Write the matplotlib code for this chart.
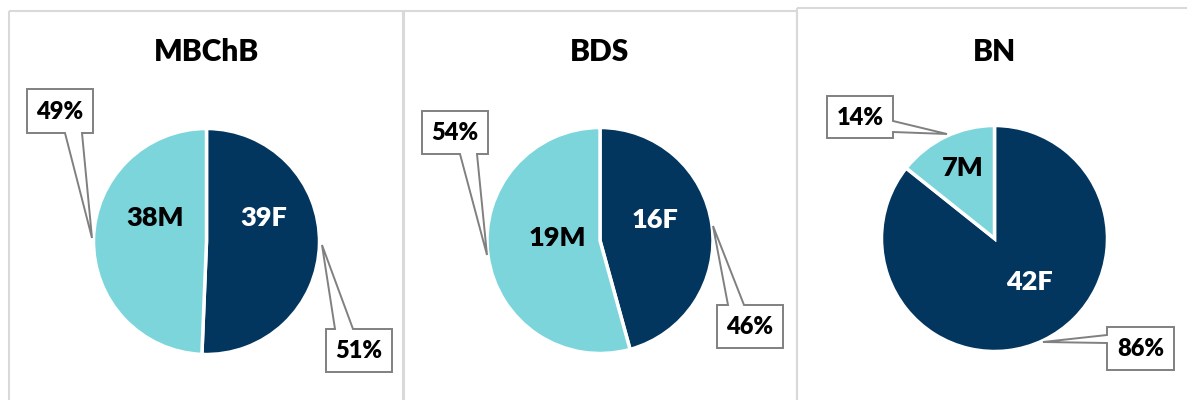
import matplotlib
matplotlib.use("Agg")
import matplotlib.pyplot as plt
from matplotlib.patches import Rectangle, Polygon

# ---- data ----
programmes = ["MBChB", "BDS", "BN"]
female = [39, 16, 42]
male = [38, 19, 7]

# ---- style ----
NAVY = "#03365F"
CYAN = "#7DD5DC"
GREY = "#808080"
BORDER = "#D9D9D9"
FONT = ["Lato", "DejaVu Sans"]
WEIGHT = "heavy"

W, H = 1187, 400
fig = plt.figure(figsize=(W / 100, H / 100), dpi=100)
ax = fig.add_axes([0, 0, 1, 1])

# layout (pixel coords, y downward)
centers = [(206.5, 241.5), (600, 240.5), (994.5, 238.5)]
radius = 113
panels = [(9, 11, 403, 420), (404, 11, 797, 420), (797, 8, 1195, 420)]
title_y = 52
# inside label offsets from centre (F, M)
f_off = [(57, -23), (55, -20), (35, 43)]
m_off = [(-51, -23), (-43, -3), (-32, -70)]
# callouts: (box x0,y0,x1,y1, edge, base1, base2, tip)
f_call = [
    ((326, 329, 392, 372), "top", 335, 353, (322, 245)),
    ((717, 305, 783, 348), "top", 728, 744, (713, 226)),
    ((1107, 327, 1174, 370), "left", 335, 343, (1043, 342)),
]
m_call = [
    ((27, 89, 93, 133), "bottom", 65, 82, (92, 238)),
    ((422, 111, 488, 154), "bottom", 460, 477, (487, 255)),
    ((827, 96, 893, 138), "right", 121, 132, (947, 134)),
]


def callout(box, edge, b1, b2, tip):
    x0, y0, x1, y1 = box
    if edge == "bottom":
        pts = [(x0, y0), (x1, y0), (x1, y1), (b2, y1), tip, (b1, y1), (x0, y1)]
    elif edge == "top":
        pts = [(x0, y0), (b1, y0), tip, (b2, y0), (x1, y0), (x1, y1), (x0, y1)]
    elif edge == "right":
        pts = [(x0, y0), (x1, y0), (x1, b1), tip, (x1, b2), (x1, y1), (x0, y1)]
    else:
        pts = [(x0, y0), (x1, y0), (x1, y1), (x0, y1), (x0, b2), tip, (x0, b1)]
    ax.add_patch(Polygon(pts, closed=True, facecolor="white", edgecolor=GREY,
                         linewidth=1.4, zorder=5))
    return ((x0 + x1) / 2, (y0 + y1) / 2)


for i, name in enumerate(programmes):
    px0, py0, px1, py1 = panels[i]
    ax.add_patch(Rectangle((px0, py0), px1 - px0, py1 - py0, facecolor="none",
                           edgecolor=BORDER, linewidth=1.5, zorder=0))
    cx, cy = centers[i]
    ax.pie([female[i], male[i]], colors=[NAVY, CYAN], center=(cx, cy),
           radius=radius, startangle=-90, counterclock=True,
           wedgeprops=dict(edgecolor="white", linewidth=2.5))
    ax.text(cx, title_y, name, ha="center", va="center", fontsize=21.5,
            fontweight=WEIGHT, family=FONT, color="black")
    ax.text(cx + f_off[i][0], cy + f_off[i][1], f"{female[i]}F", ha="center",
            va="center", fontsize=19.5, fontweight=WEIGHT, family=FONT, color="white")
    ax.text(cx + m_off[i][0], cy + m_off[i][1], f"{male[i]}M", ha="center",
            va="center", fontsize=19.5, fontweight=WEIGHT, family=FONT, color="black")
    tot = female[i] + male[i]
    fp = round(100 * female[i] / tot)
    mp = round(100 * male[i] / tot)
    tx, ty = callout(*f_call[i])
    ax.text(tx, ty + 1, f"{fp}%", ha="center", va="center", fontsize=17,
            fontweight=WEIGHT, family=FONT, color="black", zorder=6)
    tx, ty = callout(*m_call[i])
    ax.text(tx, ty + 1, f"{mp}%", ha="center", va="center", fontsize=17,
            fontweight=WEIGHT, family=FONT, color="black", zorder=6)

ax.set_xlim(0, W)
ax.set_ylim(H, 0)
ax.set_aspect("auto")
ax.axis("off")
fig.savefig("out.png", dpi=100, facecolor="white")
